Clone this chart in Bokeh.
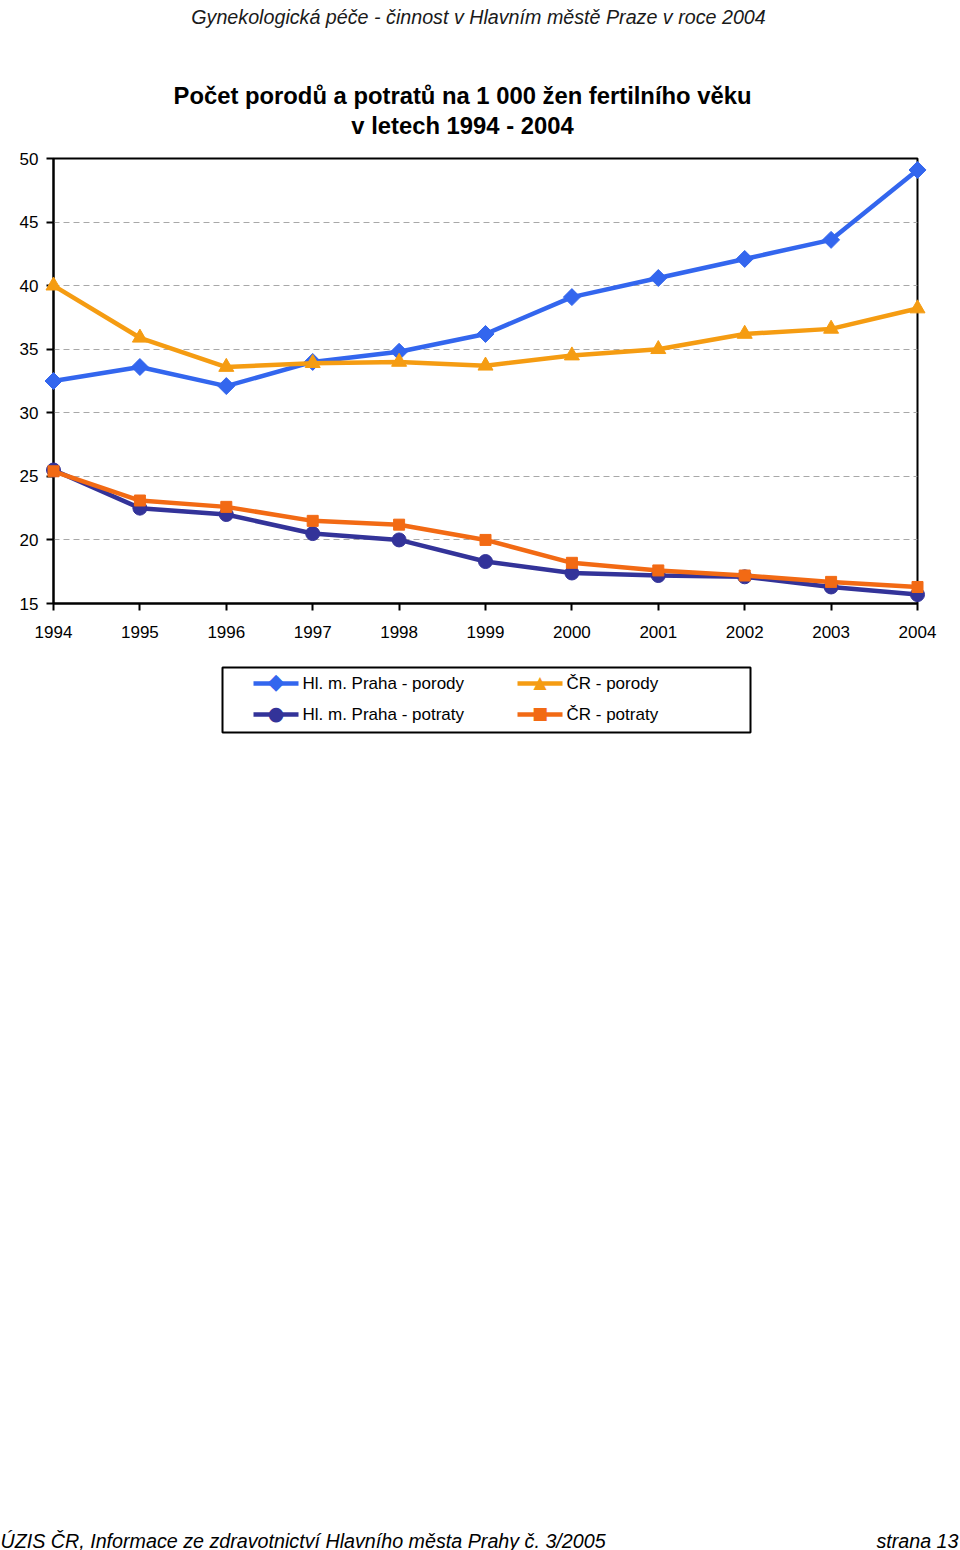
from bokeh.plotting import figure
from bokeh.models import Range1d, FixedTicker, ColumnDataSource
from bokeh.core.properties import value
from bokeh.embed import file_html
from bokeh.resources import INLINE

years = [1994, 1995, 1996, 1997, 1998, 1999, 2000, 2001, 2002, 2003, 2004]
year_labels = [str(y) for y in years]
praha_porody = [32.5, 33.6, 32.1, 34.0, 34.8, 36.2, 39.1, 40.6, 42.1, 43.6, 49.1]
praha_potraty = [25.5, 22.5, 22.0, 20.5, 20.0, 18.3, 17.4, 17.2, 17.1, 16.3, 15.7]
cr_porody = [40.0, 35.9, 33.6, 33.9, 34.0, 33.7, 34.5, 35.0, 36.2, 36.6, 38.2]
cr_potraty = [25.4, 23.1, 22.6, 21.5, 21.2, 20.0, 18.2, 17.6, 17.2, 16.7, 16.3]
y_ticks = [15, 20, 25, 30, 35, 40, 45, 50]
grid_ticks = [20, 25, 30, 35, 40, 45]
series_names = ["Hl. m. Praha - porody", "Hl. m. Praha - potraty", "ČR - porody", "ČR - potraty"]

header = "Gynekologická péče - činnost v Hlavním městě Praze v roce 2004"
title1 = "Počet porodů a potratů na 1 000 žen fertilního věku"
title2 = "v letech 1994 - 2004"
footer_left = "ÚZIS ČR, Informace ze zdravotnictví Hlavního města Prahy č. 3/2005"
footer_right = "strana 13"

FONT = "Liberation Sans"
W, H = 960, 1550
FL, FR, FT, FB = 53, 917, 158, 603  # frame edges in page pixels
X0, X1, Y0, Y1 = 1994, 2004, 15, 50

p = figure(width=W, height=H, x_range=Range1d(X0, X1), y_range=Range1d(Y0, Y1),
           output_backend="svg", toolbar_location=None,
           min_border_left=FL, min_border_right=W - FR,
           min_border_top=FT, min_border_bottom=H - FB)
p.background_fill_color = "white"
p.border_fill_color = "white"
p.outline_line_color = "black"
p.outline_line_width = 2


def dx(px):
    return X0 + (px - FL) * (X1 - X0) / (FR - FL)


def dy(py):
    return Y0 + (FB - py) * (Y1 - Y0) / (FB - FT)


for ax in (p.xaxis[0], p.yaxis[0]):
    ax.axis_line_color = "black"
    ax.axis_line_width = 2
    ax.major_tick_line_color = "black"
    ax.major_tick_line_width = 2
    ax.major_tick_out = 7
    ax.major_tick_in = 0
    ax.minor_tick_line_color = None
    ax.major_label_text_font = FONT
    ax.major_label_text_font_size = "17px"
    ax.major_label_text_color = "black"

p.xaxis.ticker = FixedTicker(ticks=years)
p.xaxis.major_label_overrides = {y: s for y, s in zip(years, year_labels)}
p.xaxis.major_label_standoff = 15
p.yaxis.ticker = FixedTicker(ticks=y_ticks)
p.yaxis.major_label_standoff = 8

p.xgrid.visible = False
p.ygrid.ticker = FixedTicker(ticks=grid_ticks)
p.ygrid.grid_line_color = "#a8a8a8"
p.ygrid.grid_line_dash = "6 4"
p.ygrid.grid_line_width = 1

# color, chart marker, size, angle, legend symbol, legend symbol size
styles = [
    ("#3366ee", "square", 12, 0.785398, "◆", "22px"),
    ("#333399", "circle", 14, 0.0, "●", "19px"),
    ("#f59c12", "triangle", 15, 0.0, "▲", "17px"),
    ("#f26a14", "square", 11, 0.0, "■", "17px"),
]
values = [praha_porody, praha_potraty, cr_porody, cr_potraty]

# legend geometry (page pixels)
leg_cols = [253, 517]
leg_rows = [683, 714]
glyph_w = 45

for i, (name, vals, (color, marker, size, angle, sym, symsize)) in enumerate(zip(series_names, values, styles)):
    src = ColumnDataSource(dict(x=years, y=vals))
    lr = p.line("x", "y", source=src, line_color=color, line_width=4.5)
    sr = p.scatter("x", "y", source=src, marker=marker, size=size, angle=angle,
                   fill_color=color, line_color=color)
    lr.level = "overlay"
    sr.level = "overlay"

    # legend entry
    gx0 = leg_cols[i // 2]
    gy = leg_rows[i % 2]
    ll = p.line(x=[dx(gx0), dx(gx0 + glyph_w)], y=[dy(gy), dy(gy)],
                line_color=color, line_width=4.5)
    lm = p.text(x=[dx(gx0 + glyph_w / 2)], y=[dy(gy - 2)], text=[sym],
                text_font=value("DejaVu Sans"), text_font_size=symsize, text_align="center",
                text_baseline="middle", text_color=color)
    lt = p.text(x=[dx(gx0 + glyph_w + 4)], y=[dy(gy)], text=[name],
                text_font=value(FONT), text_font_size="17px", text_align="left",
                text_baseline="middle", text_color="black")
    for r in (ll, lm, lt):
        r.level = "overlay"

# legend frame
lb = p.quad(left=[dx(222)], right=[dx(750)], top=[dy(667)], bottom=[dy(732)],
            fill_color=None, line_color="black", line_width=2)
lb.level = "overlay"

# page texts
texts = [
    (header, 478, 16, "italic", "19.7px", "center", "#1a1a1a"),
    (title1, 462, 95, "bold", "23.8px", "center", "black"),
    (title2, 462, 125, "bold", "23.8px", "center", "black"),
    (footer_left, 0, 1540, "italic", "19.7px", "left", "black"),
    (footer_right, 958, 1540, "italic", "19.7px", "right", "black"),
]
for txt, px, py, style, size, align, color in texts:
    t = p.text(x=[dx(px)], y=[dy(py)], text=[txt], text_font=value(FONT),
               text_font_style=style, text_font_size=size, text_align=align,
               text_baseline="alphabetic", text_color=color)
    t.level = "overlay"

open("out.html", "w").write(file_html(p, INLINE))
